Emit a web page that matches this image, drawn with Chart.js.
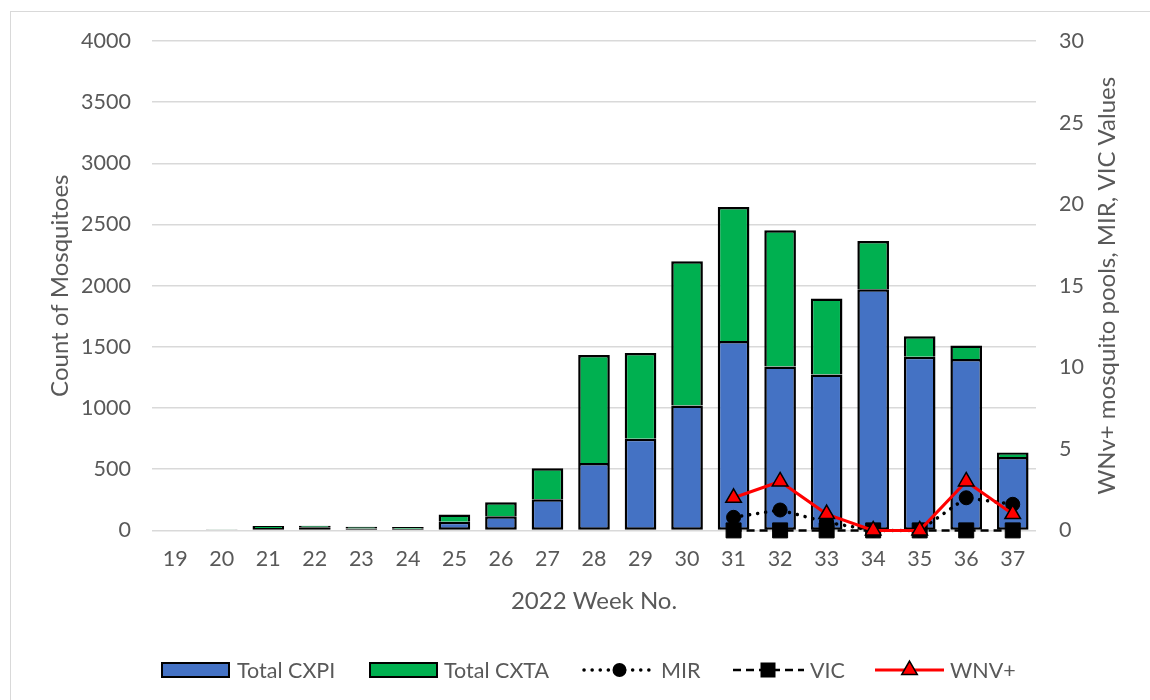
<!DOCTYPE html>
<html>
<head>
<meta charset="utf-8">
<title>2022 Mosquito Surveillance</title>
<script src="https://cdn.jsdelivr.net/npm/chart.js@4.4.1/dist/chart.umd.min.js"></script>
<style>
  html, body { margin: 0; padding: 0; background: #ffffff; }
  #wrap { width: 1150px; height: 700px; position: relative; }
</style>
</head>
<body>
<div id="wrap"><canvas id="c" width="1150" height="700"></canvas></div>
<script>
// Surveillance week numbers
const weeks = ['19','20','21','22','23','24','25','26','27','28','29','30','31','32','33','34','35','36','37'];

// Mosquito counts per week (stacked bars, left axis)
const totalCXPI = [0, 4, 20, 25, 15, 14, 70, 115, 254, 550, 750, 1020, 1548, 1340, 1275, 1970, 1420, 1400, 600];
const totalCXTA = [0, 2, 15, 12, 15, 13, 60, 115, 253, 884, 700, 1180, 1095, 1114, 620, 395, 167, 112, 36];

// Pool results per week (lines, right axis)
const mirValues = [null, null, null, null, null, null, null, null, null, null, null, null, 0.8, 1.25, 0.5, 0, 0, 2.0, 1.6];
const vicValues = [null, null, null, null, null, null, null, null, null, null, null, null, 0, 0, 0, 0, 0, 0, 0];
const wnvValues = [null, null, null, null, null, null, null, null, null, null, null, null, 2, 3, 1, 0, 0, 3, 1];

// Axis tick settings
const countMax = 4000, countStep = 500;
const poolMax = 30, poolStep = 5;

const FONT = 'Lato, "Open Sans", sans-serif';
const GREY_TEXT = '#595959';
const BLUE = '#4472C4';
const GREEN = '#00B050';

// Frame around the chart
const framePlugin = {
  id: 'frame',
  beforeDraw(chart) {
    const ctx = chart.ctx;
    ctx.save();
    ctx.fillStyle = '#ffffff';
    ctx.fillRect(0, 0, chart.width, chart.height);
    ctx.strokeStyle = '#d9d9d9';
    ctx.lineWidth = 1;
    ctx.strokeRect(10.5, 11.5, chart.width + 5, chart.height + 5);
    ctx.restore();
  }
};

// Right-hand axis title, read bottom-to-top
const rightTitlePlugin = {
  id: 'rightTitle',
  afterDraw(chart) {
    const ctx = chart.ctx;
    const area = chart.chartArea;
    ctx.save();
    ctx.translate(1107, (area.top + area.bottom) / 2);
    ctx.rotate(-Math.PI / 2);
    ctx.font = '24px ' + FONT;
    ctx.fillStyle = GREY_TEXT;
    ctx.textAlign = 'center';
    ctx.textBaseline = 'middle';
    ctx.fillText('WNv+ mosquito pools, MIR, VIC Values', 0, 0);
    ctx.restore();
  }
};

// Legend row along the bottom: bar swatches and line samples with markers
const legendPlugin = {
  id: 'bottomLegend',
  afterDraw(chart) {
    const ctx = chart.ctx;
    const y = 670;
    ctx.save();
    ctx.font = '21.5px ' + FONT;
    ctx.fillStyle = GREY_TEXT;
    ctx.textBaseline = 'middle';
    ctx.textAlign = 'left';

    const swatch = (x, color) => {
      ctx.fillStyle = color;
      ctx.fillRect(x, y - 7, 67, 14);
      ctx.strokeStyle = '#000';
      ctx.lineWidth = 2;
      ctx.strokeRect(x, y - 7, 67, 14);
    };
    const label = (x, text) => {
      ctx.fillStyle = GREY_TEXT;
      ctx.fillText(text, x, y + 1);
    };

    swatch(162, BLUE);
    label(237, 'Total CXPI');
    swatch(370, GREEN);
    label(444, 'Total CXTA');

    // MIR sample
    ctx.strokeStyle = '#000';
    ctx.lineWidth = 3.5;
    ctx.lineCap = 'round';
    ctx.setLineDash([0.1, 8]);
    ctx.beginPath(); ctx.moveTo(584, y); ctx.lineTo(655, y); ctx.stroke();
    ctx.setLineDash([]);
    ctx.fillStyle = '#000';
    ctx.beginPath(); ctx.arc(619.5, y, 7, 0, Math.PI * 2); ctx.fill();
    label(661, 'MIR');

    // VIC sample
    ctx.lineCap = 'butt';
    ctx.lineWidth = 2.5;
    ctx.setLineDash([8, 5]);
    ctx.beginPath(); ctx.moveTo(733, y); ctx.lineTo(804, y); ctx.stroke();
    ctx.setLineDash([]);
    ctx.fillStyle = '#000';
    ctx.fillRect(768 - 7.5, y - 7.5, 15, 15);
    label(810, 'VIC');

    // WNV+ sample
    ctx.strokeStyle = '#ff0000';
    ctx.lineWidth = 3;
    ctx.beginPath(); ctx.moveTo(875, y); ctx.lineTo(944, y); ctx.stroke();
    const r = 9, cx = 909.5;
    ctx.beginPath();
    for (let k = 0; k < 3; k++) {
      const a = -Math.PI / 2 + k * 2 * Math.PI / 3;
      const px = cx + Math.cos(a) * r, py = y + Math.sin(a) * r;
      if (k === 0) ctx.moveTo(px, py); else ctx.lineTo(px, py);
    }
    ctx.closePath();
    ctx.fillStyle = '#ff0000';
    ctx.fill();
    ctx.strokeStyle = '#000';
    ctx.lineWidth = 1.5;
    ctx.stroke();
    label(950, 'WNV+');

    ctx.restore();
  }
};

const data = {
  labels: weeks,
  datasets: [
    {
      type: 'line', label: 'WNV+', data: wnvValues, yAxisID: 'y1', order: 1, clip: false,
      borderColor: '#ff0000', borderWidth: 3,
      pointStyle: 'triangle', pointRadius: 9, pointHoverRadius: 9,
      pointBackgroundColor: '#ff0000', pointBorderColor: '#000000', pointBorderWidth: 1.5,
      tension: 0, fill: false
    },
    {
      type: 'line', label: 'VIC', data: vicValues, yAxisID: 'y1', order: 2, clip: false,
      borderColor: '#000000', borderWidth: 2.5, borderDash: [8, 5],
      pointStyle: 'rect', pointRadius: 10.6, pointHoverRadius: 10.6,
      pointBackgroundColor: '#000000', pointBorderColor: '#000000', pointBorderWidth: 1,
      tension: 0, fill: false
    },
    {
      type: 'line', label: 'MIR', data: mirValues, yAxisID: 'y1', order: 3, clip: false,
      borderColor: '#000000', borderWidth: 3.5, borderDash: [0.1, 8], borderCapStyle: 'round',
      pointStyle: 'circle', pointRadius: 7, pointHoverRadius: 7,
      pointBackgroundColor: '#000000', pointBorderColor: '#000000', pointBorderWidth: 1,
      tension: 0, fill: false
    },
    {
      type: 'bar', label: 'Total CXPI', data: totalCXPI, yAxisID: 'y', stack: 'count', order: 10,
      backgroundColor: BLUE, borderColor: '#000000', borderWidth: 2.5, borderSkipped: false,
      barPercentage: 0.68, categoryPercentage: 1.0
    },
    {
      type: 'bar', label: 'Total CXTA', data: totalCXTA, yAxisID: 'y', stack: 'count', order: 11,
      backgroundColor: GREEN, borderColor: '#000000', borderWidth: 2.5, borderSkipped: 'start',
      barPercentage: 0.68, categoryPercentage: 1.0
    }
  ]
};

new Chart(document.getElementById('c'), {
  data,
  plugins: [framePlugin, rightTitlePlugin, legendPlugin],
  options: {
    responsive: false,
    animation: false,
    devicePixelRatio: 1,
    layout: { padding: { left: 36, right: 24, top: 41, bottom: 84.2 } },
    plugins: {
      legend: { display: false },
      tooltip: { enabled: false },
      title: { display: false }
    },
    scales: {
      x: {
        stacked: true,
        offset: true,
        grid: { display: false, drawTicks: false },
        border: { display: false },
        ticks: { color: GREY_TEXT, font: { family: FONT, size: 21.5 }, padding: 16, maxRotation: 0, autoSkip: false },
        title: { display: true, text: '2022 Week No.', color: GREY_TEXT, font: { family: FONT, size: 24 }, padding: { top: 0, bottom: 0 } },
        afterFit(scale) { scale.height = 85.4; }
      },
      y: {
        position: 'left',
        stacked: true,
        min: 0, max: countMax,
        grid: { color: '#d9d9d9', lineWidth: 1.5, drawTicks: false },
        border: { display: false },
        ticks: { stepSize: countStep, color: GREY_TEXT, font: { family: FONT, size: 21.5 }, padding: 21, callback: v => String(v) },
        title: { display: true, text: 'Count of Mosquitoes', color: GREY_TEXT, font: { family: FONT, size: 24 }, padding: { top: 10, bottom: 0 } },
        afterFit(scale) { scale.width = 116; }
      },
      y1: {
        position: 'right',
        stacked: false,
        min: 0, max: poolMax,
        grid: { display: false, drawTicks: false },
        border: { display: false },
        ticks: { stepSize: poolStep, color: GREY_TEXT, font: { family: FONT, size: 21.5 }, padding: 23, callback: v => String(v) },
        afterFit(scale) { scale.width = 90; }
      }
    }
  }
});
</script>
</body>
</html>
